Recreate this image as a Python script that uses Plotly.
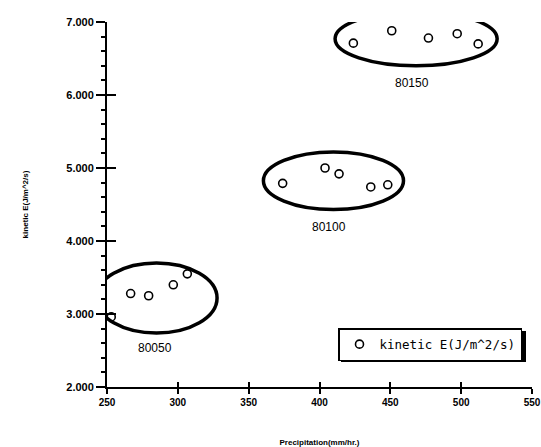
import plotly.graph_objects as go

# data
precip = [253, 266.7, 279.4, 296.8, 306.7,
          374.0, 403.9, 413.8, 436.2, 448.2,
          423.9, 451.0, 476.9, 497.2, 512.0]
kinetic = [2.96, 3.28, 3.25, 3.40, 3.55,
           4.79, 5.00, 4.92, 4.74, 4.77,
           6.71, 6.88, 6.78, 6.84, 6.70]
group_names = ["80050", "80100", "80150"]
group_x0 = [242.2, 360.4, 411.0]
group_x1 = [327.7, 459.3, 525.4]
group_y0 = [2.74, 4.43, 6.40]
group_y1 = [3.70, 5.22, 7.14]
label_x = [283.9, 406.8, 465.4]
label_y = [2.53, 4.19, 6.16]
xticks = [250, 300, 350, 400, 450, 500, 550]
yticks = [2, 3, 4, 5, 6, 7]
series_name = "kinetic E(J/m^2/s)"

W, H = 541, 447
L, R, T, B = 107, 9, 22, 60
pw, ph = W - L - R, H - T - B

fig = go.Figure()
fig.add_trace(go.Scatter(
    x=precip, y=kinetic, mode="markers", name=series_name,
    marker=dict(symbol="circle-open", size=8, color="black", line=dict(width=1.6)),
))

shapes = []
for i in range(len(group_names)):
    shapes.append(dict(type="circle", xref="x", yref="y",
                       x0=group_x0[i], x1=group_x1[i], y0=group_y0[i], y1=group_y1[i],
                       line=dict(color="black", width=3.5)))

def px2paper(x, y):
    return (x - L) / pw, (H - B - y) / ph

sx0, sy0 = px2paper(341, 331)
sx1, sy1 = px2paper(526, 362)
shapes.append(dict(type="rect", xref="paper", yref="paper", x0=sx0, x1=sx1, y0=sy1, y1=sy0,
                   fillcolor="black", line=dict(width=0), layer="below"))

annotations = []
for i in range(len(group_names)):
    annotations.append(dict(x=label_x[i], y=label_y[i], xref="x", yref="y",
                            text=group_names[i], showarrow=False,
                            font=dict(family="Liberation Sans", size=12, color="black")))

lx, ly = px2paper(338, 328)
fig.update_layout(
    width=W, height=H,
    margin=dict(l=L, r=R, t=T, b=B, autoexpand=False),
    paper_bgcolor="white", plot_bgcolor="white",
    showlegend=True,
    legend=dict(x=lx, y=ly, xanchor="left", yanchor="top",
                bordercolor="black", borderwidth=1.5, bgcolor="white",
                font=dict(family="DejaVu Sans Mono", size=12.5, color="black")),
    shapes=shapes,
    annotations=annotations,
    xaxis=dict(range=[250, 550], tickvals=xticks, ticktext=[str(v) for v in xticks],
               automargin=False,
               showgrid=False, zeroline=False, showline=True, linecolor="black", linewidth=2,
               ticks="outside", ticklen=5, tickwidth=2, tickcolor="black",
               tickfont=dict(family="Liberation Sans", size=10, color="black", weight="bold"),
               title=dict(text="Precipitation(mm/hr.)", font=dict(family="Liberation Sans", size=8, color="black", weight="bold"), standoff=34)),
    yaxis=dict(range=[2, 7], tickvals=yticks, ticktext=["%.3f" % v for v in yticks],
               automargin=False,
               showgrid=False, zeroline=False, showline=True, linecolor="black", linewidth=2,
               ticks="outside", ticklen=9, tickwidth=2, tickcolor="black",
               minor=dict(dtick=0.2, ticks="outside", ticklen=4, tickwidth=1.5, tickcolor="black"),
               tickfont=dict(family="Liberation Sans", size=11, color="black", weight="bold"),
               title=dict(text="kinetic E(J/m^2/s)", font=dict(family="Liberation Sans", size=8, color="black", weight="bold"), standoff=36)),
    xaxis2=dict(range=[250, 550], overlaying="x", tickvals=xticks, showticklabels=False,
                ticks="inside", ticklen=5, tickwidth=2, tickcolor="black", showgrid=False,
                zeroline=False, side="bottom", automargin=False),
    yaxis2=dict(range=[2, 7], overlaying="y", tickvals=yticks, showticklabels=False,
                ticks="inside", ticklen=9, tickwidth=2, tickcolor="black", showgrid=False,
                zeroline=False, side="left", automargin=False),
)
fig.add_trace(go.Scatter(x=[250], y=[2], xaxis="x2", yaxis="y2", mode="markers",
                         marker=dict(opacity=0), showlegend=False, hoverinfo="skip"))
fig.write_html("out.html", config={"displayModeBar": False},
               post_script="document.body.style.margin='0';document.body.style.overflow='hidden';")
